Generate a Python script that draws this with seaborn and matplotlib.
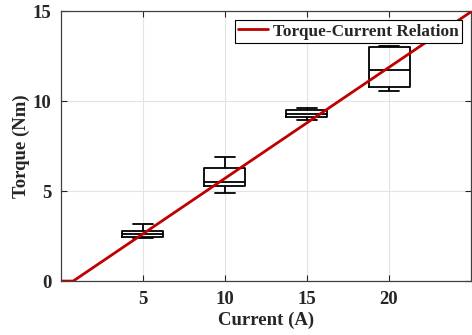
import numpy as np
import pandas as pd
import matplotlib
matplotlib.use("Agg")
import matplotlib.pyplot as plt
import seaborn as sns

# Box-plot summary samples (min, q1, median, q3, max) per current level
currents = [5, 10, 15, 20]
torque_5 = [2.40, 2.45, 2.62, 2.78, 3.17]
torque_10 = [4.87, 5.29, 5.52, 6.29, 6.90]
torque_15 = [8.94, 9.09, 9.26, 9.50, 9.59]
torque_20 = [10.56, 10.78, 11.72, 13.00, 13.07]

# Torque-current relation line
line_current = [0.0, 0.75, 25.0]
line_torque = [0.0, 0.0, 14.96]

x_ticks = [5, 10, 15, 20]
y_ticks = [0, 5, 10, 15]

sns.set_theme(style="white")
plt.rcParams["font.family"] = ["Liberation Serif", "DejaVu Serif"]
plt.rcParams["font.weight"] = "bold"

rows = []
for c, vals in zip(currents, [torque_5, torque_10, torque_15, torque_20]):
    for v in vals:
        rows.append({"Current": c, "Torque": v})
df = pd.DataFrame(rows)

fig = plt.figure(figsize=(4.72, 3.35), dpi=100)
ax = fig.add_axes([0.129, 0.161, 0.869, 0.806])

ax.grid(True, color="#e3e3e3", linewidth=0.8)
ax.set_axisbelow(True)

sns.boxplot(data=df, x="Current", y="Torque", native_scale=True, width=0.5,
            fill=False, color="black", linewidth=1.3, whis=np.inf,
            linecolor="black", ax=ax, zorder=3)

sns.lineplot(x=line_current, y=line_torque, color="#c00000", linewidth=2.0,
             label="Torque-Current Relation", ax=ax, zorder=4)

ax.set_xlim(0, 25)
ax.set_ylim(0, 15)
ax.set_xticks(x_ticks)
ax.set_yticks(y_ticks)
ax.set_xticklabels([str(t) for t in x_ticks], fontsize=13.5, fontweight="bold")
ax.set_yticklabels([str(t) for t in y_ticks], fontsize=13.5, fontweight="bold")
ax.tick_params(direction="in", length=4, width=0.8, color="#262626",
               top=True, right=True, bottom=True, left=True, pad=7)
ax.set_xlabel("Current (A)", fontsize=13.5, fontweight="bold", labelpad=3)
ax.set_ylabel("Torque (Nm)", fontsize=13.5, fontweight="bold", labelpad=2)
for s in ax.spines.values():
    s.set_color("#404040")
    s.set_linewidth(0.9)
    s.set_visible(True)

leg = ax.legend(loc="upper right", frameon=True, fancybox=False,
                prop={"family": "Liberation Serif", "weight": "bold", "size": 12.4},
                handlelength=1.7, handletextpad=0.3, borderpad=0.22,
                borderaxespad=0.5, framealpha=1)
leg.get_frame().set_edgecolor("black")
leg.get_frame().set_linewidth(0.8)
leg.set_zorder(10)

fig.savefig("out.png", dpi=100)
